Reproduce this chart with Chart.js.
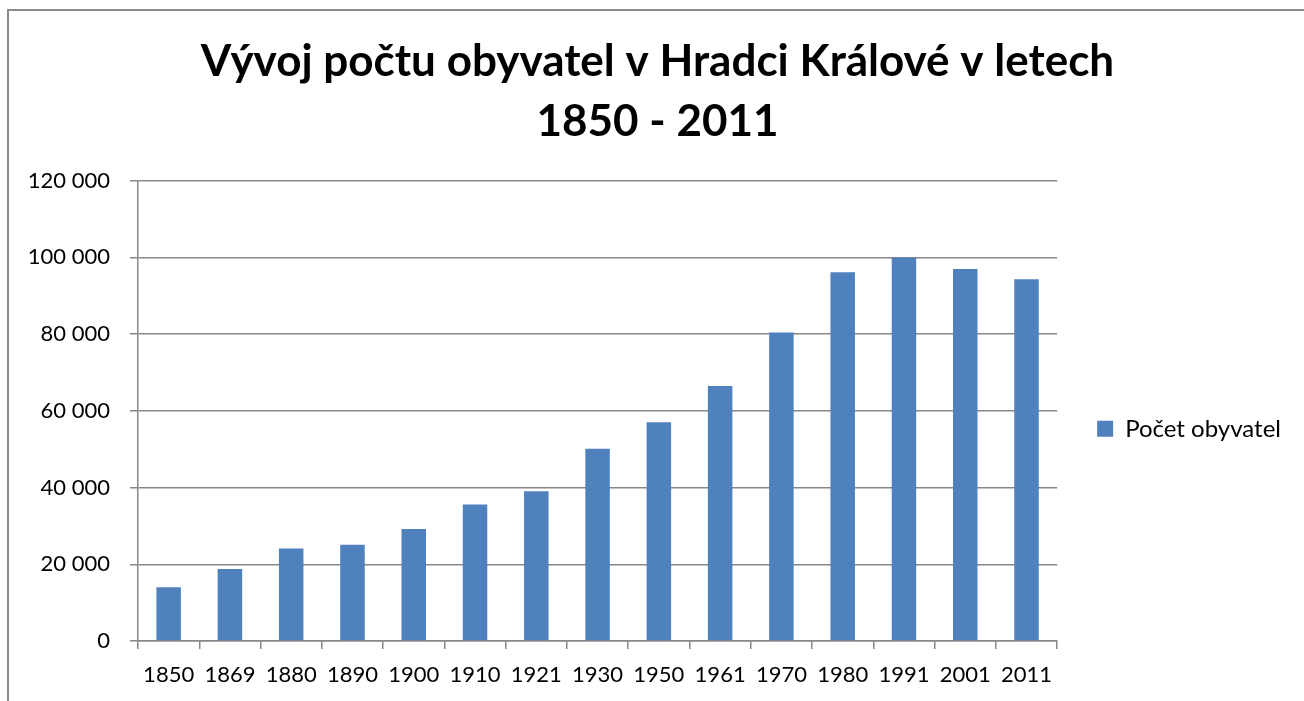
<!DOCTYPE html>
<html>
<head>
<meta charset="utf-8">
<script src="https://cdn.jsdelivr.net/npm/chart.js@4"></script>
<style>
  html, body { margin: 0; padding: 0; background: #fff; overflow: hidden; }
  #frame {
    position: absolute; left: 7px; top: 9px; width: 1400px; height: 800px;
    border-left: 2px solid #8c8c8c; border-top: 2px solid #8c8c8c;
  }
  #myChart { position: absolute; left: 0; top: 0; }
</style>
</head>
<body>
<div id="frame"></div>
<canvas id="myChart" width="1304" height="701"></canvas>
<script>
// data
const years = ["1850", "1869", "1880", "1890", "1900", "1910", "1921", "1930",
               "1950", "1961", "1970", "1980", "1991", "2001", "2011"];
const population = [14000, 18800, 24100, 25100, 29200, 35600, 39050, 50100,
                    57000, 66500, 80400, 96100, 99900, 97000, 94300];
const seriesName = "Počet obyvatel";
const titleLines = ["Vývoj počtu obyvatel v Hradci Králové v letech", "1850 - 2011"];

Chart.defaults.font.family = "Lato";
Chart.defaults.color = "#000";

const gridGray = "#878787";

// "120 000" style
function spaced(v) {
    return String(v).replace(/\B(?=(\d{3})+(?!\d))/g, " ");
}

new Chart(document.getElementById("myChart"), {
    type: "bar",
    data: {
        labels: years,
        datasets: [{
            label: seriesName,
            data: population,
            backgroundColor: "#4F81BD",
            borderWidth: 0,
            barPercentage: 0.4,
            categoryPercentage: 1.0
        }]
    },
    options: {
        responsive: false,
        animation: false,
        layout: {
            padding: { left: 24, right: 13, top: 0, bottom: 0 }
        },
        plugins: {
            title: {
                display: true,
                text: titleLines,
                font: { size: 44, weight: "bold", lineHeight: 1.36 },
                padding: { top: 32, bottom: 29 }
            },
            legend: {
                position: "right",
                fullSize: false,
                // empty title only pushes the single entry a bit lower
                title: { display: true, text: " ", font: { size: 10 }, padding: 12 },
                labels: {
                    boxWidth: 16,
                    boxHeight: 16,
                    padding: 40,
                    font: { size: 24 }
                }
            },
            tooltip: { enabled: false }
        },
        scales: {
            x: {
                grid: {
                    offset: true,
                    drawOnChartArea: false,
                    drawTicks: true,
                    tickLength: 8,
                    color: gridGray,
                    lineWidth: 1.5
                },
                border: { color: gridGray, width: 1.5 },
                ticks: { font: { size: 22, lineHeight: 1.0 }, padding: 15, maxRotation: 0 }
            },
            y: {
                min: 0,
                max: 120000,
                afterFit: s => { s.width = 114; },
                grid: {
                    drawTicks: true,
                    tickLength: 8,
                    color: gridGray,
                    lineWidth: 1.5
                },
                border: { color: gridGray, width: 1.5 },
                ticks: {
                    stepSize: 20000,
                    padding: 20,
                    font: { size: 22 },
                    callback: v => spaced(v)
                }
            }
        }
    }
});
</script>
</body>
</html>
